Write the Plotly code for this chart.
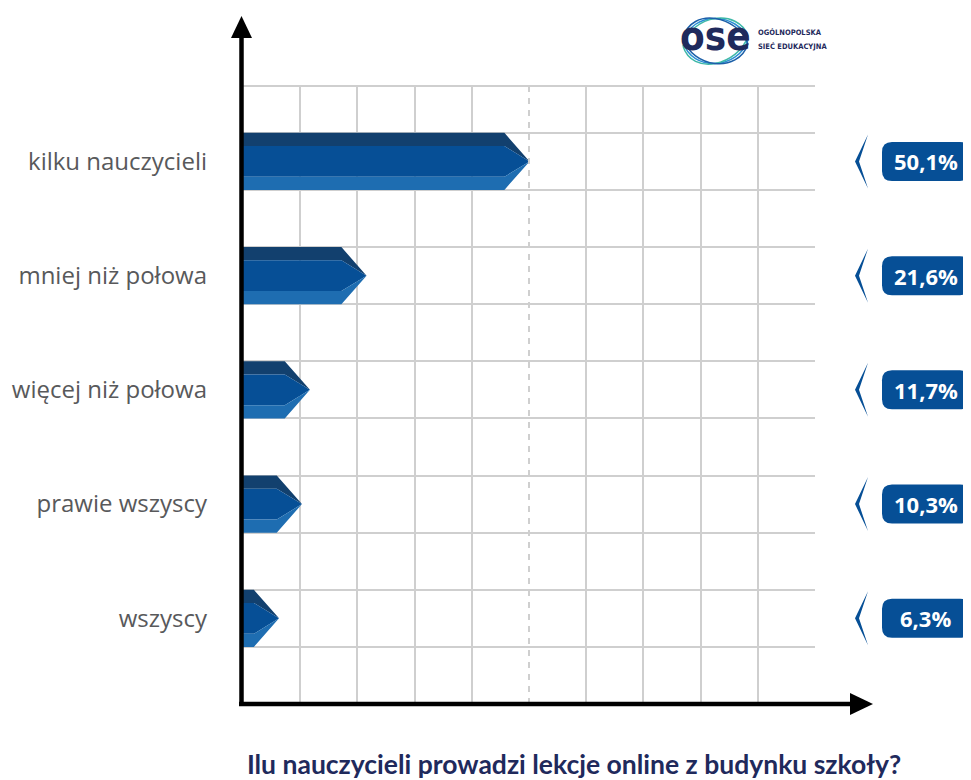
import plotly.graph_objects as go

# data, bottom to top
categories = ["wszyscy", "prawie wszyscy", "więcej niż połowa", "mniej niż połowa", "kilku nauczycieli"]
values = [6.3, 10.3, 11.7, 21.6, 50.1]
value_labels = ["6,3%", "10,3%", "11,7%", "21,6%", "50,1%"]
rows = [1, 3, 5, 7, 9]          # grid row where each bar starts
grid_x = [10, 20, 30, 40, 60, 70, 80, 90, 100]
grid_y = [1, 2, 3, 4, 5, 6, 7, 8, 9, 10]
title = "Ilu nauczycieli prowadzi lekcje online z budynku szkoły?"

OFF = 8                          # page body margin
W, H = 971 - OFF, 780 - OFF
L, R, T, B = 243, 815, 86, 704   # plot area, page px
YMAX = 10.82
TIP = 4.4       # arrow point length in % units
BAND = 0.23     # share of the dark / light edge bands

C_TOP = "#12406e"
C_MID = "#064f96"
C_BOT = "#1e6db1"
C_GRID = "#cfcfcf"
NAVY = "#1f2a5c"
NARROW = "Liberation Sans Narrow, DejaVu Sans Condensed"


def px_x(p):
    return (p - L) / (R - L)


def px_y(p):
    return (B - p) / (B - T)


fig = go.Figure()

for v, r in zip(values, rows):
    y0, y1 = r, r + 1
    c = r + 0.5
    body = v - TIP
    xs = [0, body, v, body, 0, 0]
    bands = [
        ([y1, y1, c, y1 - BAND, y1 - BAND, y1], C_TOP),
        ([y1 - BAND, y1 - BAND, c, y0 + BAND, y0 + BAND, y1 - BAND], C_MID),
        ([y0 + BAND, y0 + BAND, c, y0, y0, y0 + BAND], C_BOT),
    ]
    for ys, col in bands:
        fig.add_trace(go.Scatter(x=xs, y=ys, fill="toself", fillcolor=col, mode="lines",
                                 line=dict(width=0, color=col), hoverinfo="skip",
                                 showlegend=False))

shapes = []
# top edge of the grid and the dashed 50% line
shapes.append(dict(type="line", xref="x", yref="paper", x0=0, x1=100, y0=1, y1=1,
                   line=dict(color=C_GRID, width=2)))
shapes.append(dict(type="line", xref="x", yref="paper", x0=50, x1=50, y0=0, y1=1,
                   line=dict(color=C_GRID, width=2, dash="6px,6px")))
# axes with arrows
shapes.append(dict(type="line", xref="paper", yref="paper", x0=px_x(239), x1=px_x(851),
                   y0=px_y(704), y1=px_y(704), line=dict(color="black", width=4.5)))
shapes.append(dict(type="line", xref="paper", yref="paper", x0=px_x(241.5), x1=px_x(241.5),
                   y0=px_y(706), y1=px_y(38), line=dict(color="black", width=4.5)))
shapes.append(dict(type="path", xref="paper", yref="paper", fillcolor="black", line=dict(width=0),
                   path=f"M {px_x(850)},{px_y(693)} L {px_x(873)},{px_y(704)} L {px_x(850)},{px_y(715)} Z"))
shapes.append(dict(type="path", xref="paper", yref="paper", fillcolor="black", line=dict(width=0),
                   path=f"M {px_x(231)},{px_y(38)} L {px_x(241.5)},{px_y(16)} L {px_x(252)},{px_y(38)} Z"))

# value pills with chevrons
ppy = (B - T) / YMAX   # px per row
x0, x1 = px_x(882), px_x(970)
rx, ry = 10 / (R - L), 10 / ppy
annotations = []
for r, lab in zip(rows, value_labels):
    c = r + 0.5
    b0, b1 = c - 19.5 / ppy, c + 19.5 / ppy
    path = (f"M {x0 + rx},{b1} L {x1 - rx},{b1} Q {x1},{b1} {x1},{b1 - ry} "
            f"L {x1},{b0 + ry} Q {x1},{b0} {x1 - rx},{b0} L {x0 + rx},{b0} "
            f"Q {x0},{b0} {x0},{b0 + ry} L {x0},{b1 - ry} Q {x0},{b1} {x0 + rx},{b1} Z")
    shapes.append(dict(type="path", xref="paper", yref="y", path=path,
                       fillcolor=C_MID, line=dict(width=0)))
    chev = (f"M {px_x(868)},{c + 27 / ppy} L {px_x(855)},{c} L {px_x(868)},{c - 27 / ppy} "
            f"L {px_x(859)},{c} Z")
    shapes.append(dict(type="path", xref="paper", yref="y", path=chev,
                       fillcolor=C_MID, line=dict(width=0)))
    annotations.append(dict(xref="paper", yref="y", x=px_x(926), y=c, text=f"<b>{lab}</b>",
                            xanchor="center", yanchor="middle", showarrow=False,
                            font=dict(family="Open Sans", size=22, color="white")))

# logo
for col, dy in [("#2a8fd6", 0), ("#3fb8a8", 4), ("#1c5fa8", -4)]:
    shapes.append(dict(type="path", xref="paper", yref="paper", layer="below",
                       line=dict(color=col, width=1.5),
                       path=(f"M {px_x(683)},{px_y(42 + dy)} C {px_x(692)},{px_y(10 + dy)} "
                             f"{px_x(738)},{px_y(12 - dy)} {px_x(748)},{px_y(40 - dy)} "
                             f"C {px_x(738)},{px_y(70 - dy)} {px_x(692)},{px_y(72 + dy)} "
                             f"{px_x(683)},{px_y(42 + dy)}")))
annotations.append(dict(xref="paper", yref="paper", x=px_x(715), y=px_y(36), text="<b>ose</b>",
                        xanchor="center", yanchor="middle", showarrow=False,
                        font=dict(family=NARROW, size=40, color=NAVY)))
for txt, yy in [("OGÓLNOPOLSKA", 33), ("SIEĆ EDUKACYJNA", 46)]:
    annotations.append(dict(xref="paper", yref="paper", x=px_x(756), y=px_y(yy), text=f"<b>{txt}</b>",
                            xanchor="left", yanchor="middle", showarrow=False,
                            font=dict(family=NARROW, size=7.5, color=NAVY)))

fig.update_layout(
    width=W, height=H,
    margin=dict(l=L - OFF, r=W - (R - OFF), t=T - OFF, b=H - (B - OFF), autoexpand=False),
    plot_bgcolor="white", paper_bgcolor="white",
    shapes=shapes, annotations=annotations,
    title=dict(text=f"<b>{title}</b>", xref="paper", x=px_x(574), xanchor="center",
               y=1 - (765 - OFF) / H, yanchor="middle",
               font=dict(family="Lato", size=26.5, color=NAVY)),
    xaxis=dict(range=[0, 100], tickvals=grid_x, showticklabels=False, showgrid=True,
               gridcolor=C_GRID, gridwidth=2, zeroline=False, showline=False,
               automargin=False, fixedrange=True),
    yaxis=dict(range=[0, YMAX], tickvals=[r + 0.5 for r in rows], ticktext=categories,
               showgrid=False, zeroline=False, showline=False, ticks="",
               ticklabelstandoff=35, automargin=False,
               tickfont=dict(family="Open Sans", size=24, color="#58595b"),
               minor=dict(tickvals=grid_y, showgrid=True, gridcolor=C_GRID, gridwidth=2, ticks=""),
               fixedrange=True),
    showlegend=False,
)

fig.write_html("out.html")
